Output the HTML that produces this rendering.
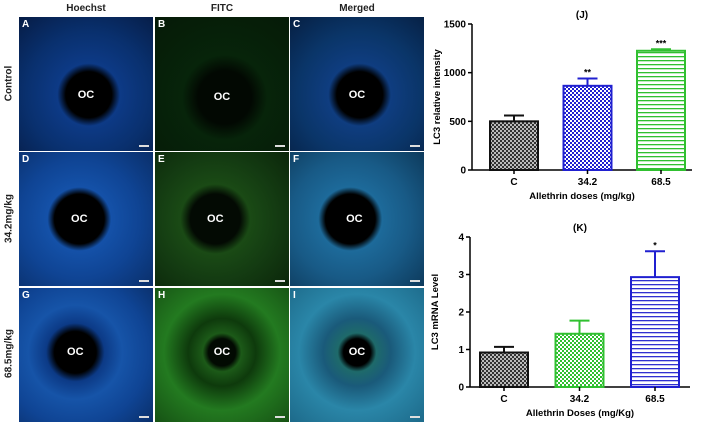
<!DOCTYPE html>
<html><head><meta charset="utf-8"><style>
body{margin:0;width:704px;height:427px;background:#fff;position:relative;overflow:hidden;font-family:"Liberation Sans",sans-serif}
.p{position:absolute;width:134px;height:134px;border:0}
.lab{position:absolute;color:#fff;font-size:10px;font-weight:bold;left:3px;top:2px}
.oc{position:absolute;color:#fff;font-size:11px;font-weight:bold;left:50%;top:50%;transform:translate(-50%,-50%)}
.sb{position:absolute;right:4px;bottom:4px;width:10px;height:2px;background:#ddd}
.hd{position:absolute;font-size:10px;font-weight:bold;color:#222;top:3px;width:134px;text-align:center}
.rl{position:absolute;font-size:10px;font-weight:bold;color:#222;transform:rotate(-90deg);transform-origin:center;width:134px;text-align:center;left:-58px}
</style></head><body>
<div class="hd" style="left:19px">Hoechst</div>
<div class="hd" style="left:155px">FITC</div>
<div class="hd" style="left:290px">Merged</div>
<div class="rl" style="top:78px">Control</div>
<div class="rl" style="top:213px">34.2mg/kg</div>
<div class="rl" style="top:348px">68.5mg/kg</div>

<div class="p" style="left:19px;top:17px;background:radial-gradient(circle at 52% 58%,#000 0 22%,#0d3a86 30%,#09306e 60%,#061c45 100%)"><span class="lab">A</span><span class="oc" style="top:58%">OC</span><span class="sb"></span></div>
<div class="p" style="left:155px;top:17px;background:radial-gradient(circle at 52% 60%,#020802 0 25%,#07240a 40%,#051a07 100%)"><span class="lab">B</span><span class="oc" style="top:60%">OC</span><span class="sb"></span></div>
<div class="p" style="left:290px;top:17px;background:radial-gradient(circle at 52% 58%,#000 0 22%,#0f3d80 30%,#0a3568 60%,#061f42 100%)"><span class="lab">C</span><span class="oc" style="top:58%">OC</span><span class="sb"></span></div>

<div class="p" style="left:19px;top:152px;background:radial-gradient(circle at 45% 50%,#000 0 25%,#1451a8 32%,#0f4494 60%,#0a2f6a 100%)"><span class="lab">D</span><span class="oc" style="left:45%">OC</span><span class="sb"></span></div>
<div class="p" style="left:155px;top:152px;background:radial-gradient(circle at 45% 50%,#030a03 0 25%,#1a4a15 35%,#143c12 60%,#0b260a 100%)"><span class="lab">E</span><span class="oc" style="left:45%">OC</span><span class="sb"></span></div>
<div class="p" style="left:290px;top:152px;background:radial-gradient(circle at 45% 50%,#000 0 25%,#1d6a9a 32%,#185a86 60%,#0d3a5c 100%)"><span class="lab">F</span><span class="oc" style="left:48%">OC</span><span class="sb"></span></div>

<div class="p" style="left:19px;top:288px;background:radial-gradient(circle at 42% 48%,#000 0 20%,#0c3a86 28%,#1654a8 45%,#0f4494 70%,#0a2f6a 100%)"><span class="lab">G</span><span class="oc" style="left:42%;top:48%">OC</span><span class="sb"></span></div>
<div class="p" style="left:155px;top:288px;background:radial-gradient(circle at 50% 48%,#020a02 0 14%,#1c5a18 20%,#0e3a0c 35%,#237a20 60%,#165214 100%)"><span class="lab">H</span><span class="oc" style="top:48%">OC</span><span class="sb"></span></div>
<div class="p" style="left:290px;top:288px;background:radial-gradient(circle at 50% 48%,#000 0 14%,#1e6a6a 20%,#1a5a7a 35%,#2a86a8 60%,#1d6a8a 100%)"><span class="lab">I</span><span class="oc" style="top:48%">OC</span><span class="sb"></span></div>

<svg id="chart" width="704" height="427" style="position:absolute;left:0;top:0" font-family="Liberation Sans, sans-serif" font-weight="bold">
<defs>
<pattern id="chkGray" width="4" height="4" patternUnits="userSpaceOnUse"><rect width="4" height="4" fill="#bbb"/><rect width="2" height="2" fill="#333"/><rect x="2" y="2" width="2" height="2" fill="#333"/></pattern>
<pattern id="chkBlue" width="4" height="4" patternUnits="userSpaceOnUse"><rect width="4" height="4" fill="#fff"/><rect width="2" height="2" fill="#2020d0"/><rect x="2" y="2" width="2" height="2" fill="#2020d0"/></pattern>
<pattern id="chkGreen" width="4" height="4" patternUnits="userSpaceOnUse"><rect width="4" height="4" fill="#fff"/><rect width="2" height="2" fill="#30c030"/><rect x="2" y="2" width="2" height="2" fill="#30c030"/></pattern>
<pattern id="hGreen" width="4" height="4" patternUnits="userSpaceOnUse"><rect width="4" height="4" fill="#fff"/><rect width="4" height="1.3" fill="#30c030"/></pattern>
<pattern id="hBlue" width="4" height="4" patternUnits="userSpaceOnUse"><rect width="4" height="4" fill="#fff"/><rect width="4" height="1.3" fill="#3030d0"/></pattern>
</defs>
</svg>
<script>
const catsJ=["C","34.2","68.5"];
const valsJ=[500,865,1225];
const errJ=[60,75,15];
const sigJ=["","**","***"];
const ticksJ=[0,500,1000,1500];
const catsK=["C","34.2","68.5"];
const valsK=[0.92,1.42,2.93];
const errK=[0.15,0.35,0.69];
const sigK=["","","*"];
const ticksK=[0,1,2,3,4];
const NS="http://www.w3.org/2000/svg";
const svg=document.getElementById('chart');
function mk(t,a,p){const e=document.createElementNS(NS,t);for(const k in a)e.setAttribute(k,a[k]);(p||svg).appendChild(e);return e;}
function chart(o){
  const g=mk('g',{});
  
  
  const y=v=>o.y0-(v/o.max)*(o.y0-o.y1);
  const bx=i=>o.xStart+i*o.step;
  mk('line',{x1:o.ax,y1:o.y1,x2:o.ax,y2:o.y0,stroke:'#000','stroke-width':1.5},g);
  mk('line',{x1:o.ax,y1:o.y0,x2:o.xEnd,y2:o.y0,stroke:'#000','stroke-width':1.5},g);
  o.ticks.forEach(t=>{
    mk('line',{x1:o.ax-4,y1:y(t),x2:o.ax,y2:y(t),stroke:'#000','stroke-width':1.5},g);
    const tx=mk('text',{x:o.ax-6,y:y(t)+3.5,'text-anchor':'end','font-size':10},g);tx.textContent=t;
    
    
  });
  o.cats.forEach((c,i)=>{
    const x=bx(i),cx=x+o.bw/2,v=o.vals[i],e=o.errs[i];
    mk('line',{x1:cx,y1:y(v+e),x2:cx,y2:y(v),stroke:o.strokes[i],'stroke-width':2},g);
    mk('line',{x1:cx-10,y1:y(v+e),x2:cx+10,y2:y(v+e),stroke:o.strokes[i],'stroke-width':2},g);
    const r=mk('rect',{x:x,y:y(v),width:o.bw,height:o.y0-y(v),fill:o.fills[i],stroke:o.strokes[i],'stroke-width':2},g);
    
    
    mk('line',{x1:cx,y1:o.y0,x2:cx,y2:o.y0+4,stroke:'#000','stroke-width':1.5},g);
    const t=mk('text',{x:cx,y:o.y0+15,'text-anchor':'middle','font-size':10},g);t.textContent=c;
    
    
    if(o.sig[i]){const s=mk('text',{x:cx,y:y(v+e)-3,'text-anchor':'middle','font-size':9},g);s.textContent=o.sig[i];
      
      }
  });
  const tt=mk('text',{x:(o.ax+o.xEnd)/2,y:o.y1-6,'text-anchor':'middle','font-size':10},g);tt.textContent=o.title;
  
  
  const xt=mk('text',{x:(o.ax+o.xEnd)/2,y:o.y0+29,'text-anchor':'middle','font-size':9.5},g);xt.textContent=o.xTitle;
  
  
  const ly=(o.y0+o.y1)/2;
  const yt=mk('text',{x:o.ax-32,y:ly,'text-anchor':'middle','font-size':9.5,transform:`rotate(-90 ${o.ax-32} ${ly})`},g);yt.textContent=o.yTitle;
  
  
}
chart({name:'chart-j',cats:catsJ,vals:valsJ,errs:errJ,sig:sigJ,ticks:ticksJ,max:1500,ax:472,xEnd:692,y0:170,y1:24,xStart:490,step:73.5,bw:48,
  fills:['url(#chkGray)','url(#chkBlue)','url(#hGreen)'],strokes:['#111','#2020d0','#30c030'],title:'(J)',xTitle:'Allethrin doses (mg/kg)',yTitle:'LC3 relative intensity'});
chart({name:'chart-k',cats:catsK,vals:valsK,errs:errK,sig:sigK,ticks:ticksK,max:4,ax:470,xEnd:690,y0:387,y1:237,xStart:480,step:75.5,bw:48,
  fills:['url(#chkGray)','url(#chkGreen)','url(#hBlue)'],strokes:['#111','#30c030','#2020d0'],title:'(K)',xTitle:'Allethrin Doses (mg/Kg)',yTitle:'LC3 mRNA Level'});
</script>
</body></html>
